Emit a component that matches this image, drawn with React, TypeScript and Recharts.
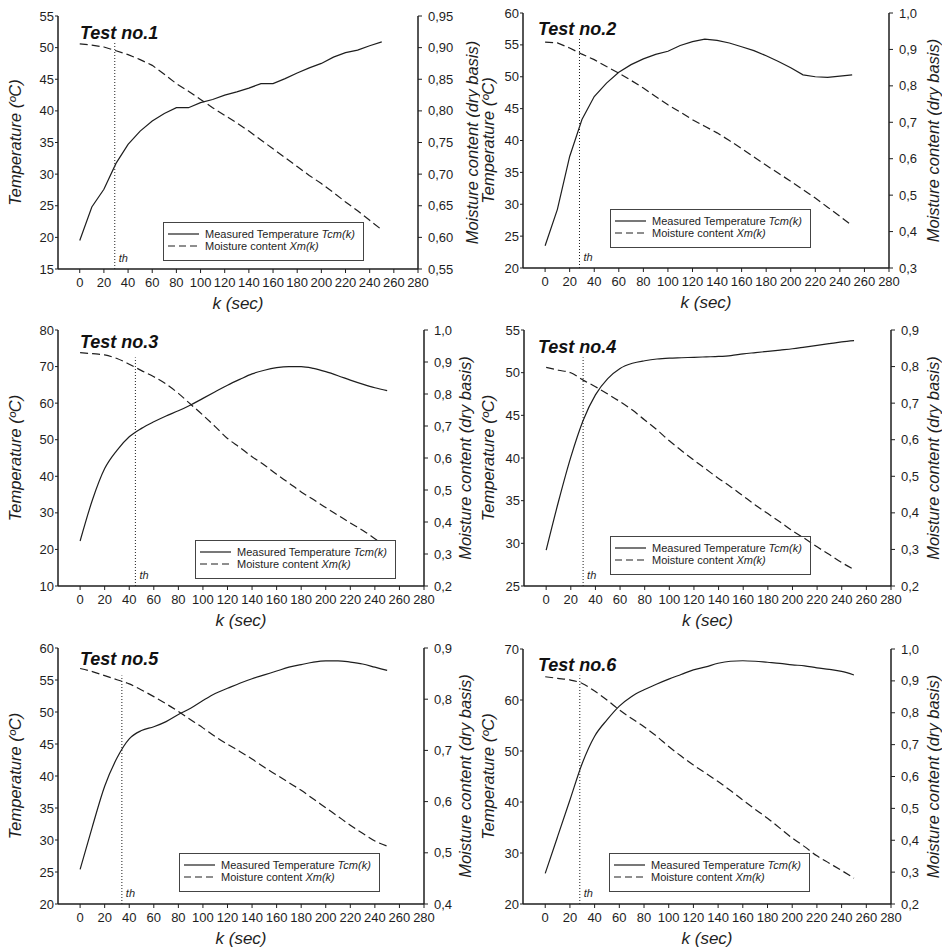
import React from 'react';
import { LineChart, Line, XAxis, YAxis, ReferenceLine, Legend } from 'recharts';

// time axis (sec), shared by all six tests
const K = [0, 10, 20, 30, 40, 50, 60, 70, 80, 90, 100, 110, 120, 130, 140, 150, 160, 170, 180, 190, 200, 210, 220, 230, 240, 250];
const K_TICKS = [0, 20, 40, 60, 80, 100, 120, 140, 160, 180, 200, 220, 240, 260, 280];

// measured temperature Tcm(k) and moisture content Xm(k)
const T1 = [19.5, 24.8, 27.6, 31.7, 34.7, 36.8, 38.4, 39.6, 40.5, 40.5, 41.3, 41.8, 42.5, 43.0, 43.6, 44.3, 44.3, 45.1, 46.0, 46.8, 47.5, 48.5, 49.2, 49.6, 50.3, 50.9];
const X1 = [0.906, 0.904, 0.901, 0.895, 0.889, 0.881, 0.872, 0.858, 0.843, 0.831, 0.818, 0.805, 0.793, 0.781, 0.768, 0.754, 0.74, 0.726, 0.712, 0.698, 0.685, 0.671, 0.656, 0.642, 0.627, 0.612];

const T2 = [23.5, 29.2, 37.5, 43.3, 46.9, 49.0, 50.7, 51.9, 52.8, 53.5, 54.0, 54.9, 55.5, 55.9, 55.7, 55.3, 54.7, 54.1, 53.3, 52.4, 51.4, 50.3, 50.0, 49.9, 50.1, 50.3];
const X2 = [0.92, 0.918, 0.904, 0.887, 0.872, 0.853, 0.835, 0.815, 0.794, 0.771, 0.748, 0.728, 0.707, 0.689, 0.671, 0.65, 0.628, 0.605, 0.582, 0.56, 0.538, 0.515, 0.492, 0.467, 0.442, 0.416];

const T3 = [22.3, 33.5, 42.1, 47.1, 50.8, 53.1, 54.9, 56.5, 57.9, 59.5, 61.3, 63.1, 64.9, 66.5, 68.0, 69.0, 69.7, 70.0, 70.0, 69.5, 68.6, 67.5, 66.3, 65.2, 64.2, 63.4];
const X3 = [0.929, 0.926, 0.922, 0.911, 0.893, 0.873, 0.854, 0.831, 0.802, 0.768, 0.734, 0.698, 0.661, 0.633, 0.604, 0.578, 0.549, 0.522, 0.494, 0.47, 0.445, 0.421, 0.397, 0.374, 0.348, 0.322];

const T4 = [29.2, 34.9, 40.1, 44.4, 47.4, 49.3, 50.5, 51.1, 51.4, 51.6, 51.7, 51.75, 51.8, 51.85, 51.9, 52.0, 52.2, 52.35, 52.5, 52.65, 52.8, 53.0, 53.2, 53.4, 53.6, 53.75];
const X4 = [0.798, 0.79, 0.783, 0.763, 0.745, 0.725, 0.704, 0.681, 0.654, 0.627, 0.597, 0.57, 0.544, 0.519, 0.494, 0.471, 0.446, 0.421, 0.398, 0.375, 0.351, 0.33, 0.307, 0.286, 0.264, 0.245];

const T5 = [25.4, 32.1, 38.4, 42.8, 45.8, 47.1, 47.7, 48.5, 49.6, 50.6, 51.8, 52.9, 53.7, 54.5, 55.2, 55.8, 56.4, 57.0, 57.4, 57.8, 58.0, 58.0, 57.8, 57.5, 57.0, 56.5];
const X5 = [0.86, 0.854, 0.846, 0.838, 0.83, 0.818, 0.805, 0.791, 0.776, 0.76, 0.744, 0.727, 0.712, 0.698, 0.683, 0.667, 0.652, 0.637, 0.622, 0.605, 0.588, 0.571, 0.554, 0.538, 0.523, 0.513];

const T6 = [26.0, 33.2, 40.4, 47.6, 52.9, 56.1, 58.8, 60.7, 62.0, 63.1, 64.1, 65.0, 65.9, 66.5, 67.2, 67.6, 67.7, 67.6, 67.4, 67.2, 66.9, 66.7, 66.3, 66.0, 65.6, 64.9];
const X6 = [0.913, 0.908, 0.903, 0.892, 0.868, 0.84, 0.809, 0.782, 0.756, 0.727, 0.694, 0.664, 0.636, 0.61, 0.584, 0.556, 0.526, 0.497, 0.469, 0.438, 0.407, 0.38, 0.351, 0.328, 0.305, 0.281];

// axis ticks per test
const TEMP_TICKS_1 = [15, 20, 25, 30, 35, 40, 45, 50, 55];
const MOIST_TICKS_1 = [0.55, 0.6, 0.65, 0.7, 0.75, 0.8, 0.85, 0.9, 0.95];
const TEMP_TICKS_2 = [20, 25, 30, 35, 40, 45, 50, 55, 60];
const MOIST_TICKS_2 = [0.3, 0.4, 0.5, 0.6, 0.7, 0.8, 0.9, 1.0];
const TEMP_TICKS_3 = [10, 20, 30, 40, 50, 60, 70, 80];
const MOIST_TICKS_3 = [0.2, 0.3, 0.4, 0.5, 0.6, 0.7, 0.8, 0.9, 1.0];
const TEMP_TICKS_4 = [25, 30, 35, 40, 45, 50, 55];
const MOIST_TICKS_4 = [0.2, 0.3, 0.4, 0.5, 0.6, 0.7, 0.8, 0.9];
const TEMP_TICKS_5 = [20, 25, 30, 35, 40, 45, 50, 55, 60];
const MOIST_TICKS_5 = [0.4, 0.5, 0.6, 0.7, 0.8, 0.9];
const TEMP_TICKS_6 = [20, 30, 40, 50, 60, 70];
const MOIST_TICKS_6 = [0.2, 0.3, 0.4, 0.5, 0.6, 0.7, 0.8, 0.9, 1.0];

// threshold time th and how high its dotted marker reaches (degC)
const TH = [29, 28, 45, 30, 34, 28];
const TH_TOP = [51, 56, 72.5, 51.8, 55.7, 64.8];
const TITLES = ['Test no.1', 'Test no.2', 'Test no.3', 'Test no.4', 'Test no.5', 'Test no.6'];

const INK = '#1e1e1e';
const LEFT_W = 58;
const RIGHT_W = 62;
const TOP_M = 10;
const BOTTOM_H = 45;
const K_DOMAIN = [-18, 280];

const PANELS = [
  { temp: T1, moist: X1, tTicks: TEMP_TICKS_1, mTicks: MOIST_TICKS_1, dec: 2, curve: 'linear', plot: { x: 58, y: 16, w: 360, h: 253 }, lTitle: 43, rTitle: 54, title: { x: 80, y: 39 }, legend: { x: 163, y: 222 }, opaque: false },
  { temp: T2, moist: X2, tTicks: TEMP_TICKS_2, mTicks: MOIST_TICKS_2, dec: 1, curve: 'linear', plot: { x: 523, y: 13, w: 366, h: 255 }, lTitle: 35, rTitle: 44, title: { x: 538, y: 35 }, legend: { x: 610, y: 209 }, opaque: false },
  { temp: T3, moist: X3, tTicks: TEMP_TICKS_3, mTicks: MOIST_TICKS_3, dec: 1, curve: 'monotone', plot: { x: 58, y: 330, w: 366, h: 256 }, lTitle: 43, rTitle: 41, title: { x: 80, y: 348 }, legend: { x: 195, y: 540 }, opaque: true },
  { temp: T4, moist: X4, tTicks: TEMP_TICKS_4, mTicks: MOIST_TICKS_4, dec: 1, curve: 'monotone', plot: { x: 524, y: 330, w: 367, h: 256 }, lTitle: 36, rTitle: 42, title: { x: 538, y: 353 }, legend: { x: 610, y: 536 }, opaque: false },
  { temp: T5, moist: X5, tTicks: TEMP_TICKS_5, mTicks: MOIST_TICKS_5, dec: 1, curve: 'monotone', plot: { x: 58, y: 648, w: 366, h: 256 }, lTitle: 43, rTitle: 41, title: { x: 80, y: 665 }, legend: { x: 179, y: 853 }, opaque: false },
  { temp: T6, moist: X6, tTicks: TEMP_TICKS_6, mTicks: MOIST_TICKS_6, dec: 1, curve: 'monotone', plot: { x: 523, y: 649, w: 368, h: 255 }, lTitle: 35, rTitle: 42, title: { x: 538, y: 671 }, legend: { x: 609, y: 853 }, opaque: false },
];

function ThLabel(props: any) {
  const vb = props.viewBox || {};
  return (
    <text x={vb.x + 4} y={vb.y + vb.height - 7} fontSize={11} fontStyle="italic" fill={INK}>
      th
    </text>
  );
}

function LegendBox({ payload, opaque }: any) {
  return (
    <div
      style={{
        width: 201,
        height: 39,
        boxSizing: 'border-box',
        border: '1.5px solid #444',
        background: opaque ? '#fff' : 'transparent',
        padding: '5px 0 0 4px',
        fontSize: 11,
        color: INK,
      }}
    >
      {(payload || []).map((e: any, i: number) => {
        const name = String(e.value);
        const cut = name.lastIndexOf(' ');
        return (
          <div key={i} style={{ display: 'flex', alignItems: 'center', height: 12, lineHeight: '12px', whiteSpace: 'nowrap' }}>
            <svg width={31} height={6} style={{ marginRight: 6, flexShrink: 0 }}>
              <line x1={0} y1={3} x2={31} y2={3} stroke={INK} strokeWidth={1.2} strokeDasharray={i === 1 ? '7 4' : undefined} />
            </svg>
            <span>
              {name.slice(0, cut + 1)}
              <i>{name.slice(cut + 1)}</i>
            </span>
          </div>
        );
      })}
    </div>
  );
}

function TestPanel({ p, idx }: { p: any; idx: number }) {
  const data = K.map((k, i) => ({ k, t: p.temp[i], m: p.moist[i] }));
  const left = p.plot.x - LEFT_W;
  const top = p.plot.y - TOP_M;
  const width = p.plot.w + LEFT_W + RIGHT_W;
  const height = p.plot.h + TOP_M + BOTTOM_H;
  const fmt = (v: number) => v.toFixed(p.dec).replace('.', ',');
  const axisLine = { stroke: INK, strokeWidth: 1.5 };
  const tickStyle = { fill: INK, fontSize: 13 };

  return (
    <div style={{ position: 'absolute', left, top, width, height }}>
      <LineChart width={width} height={height} data={data} margin={{ top: TOP_M, right: 0, bottom: 0, left: 0 }}>
        <XAxis
          dataKey="k"
          type="number"
          domain={K_DOMAIN}
          ticks={K_TICKS}
          interval={0}
          height={BOTTOM_H}
          tickSize={4}
          tickMargin={5}
          axisLine={axisLine}
          tickLine={{ stroke: INK }}
          tick={tickStyle}
          label={{ value: 'k (sec)', position: 'insideBottom', offset: 5, fill: INK, style: { fontSize: 17, fontStyle: 'italic', fill: INK } }}
        />
        <XAxis xAxisId="top" orientation="top" type="number" domain={K_DOMAIN} height={0} tick={false} tickLine={false} axisLine={axisLine} />
        <YAxis
          yAxisId="t"
          orientation="left"
          width={LEFT_W}
          domain={[p.tTicks[0], p.tTicks[p.tTicks.length - 1]]}
          ticks={p.tTicks}
          interval={0}
          tickSize={3}
          tickMargin={1}
          axisLine={axisLine}
          tickLine={{ stroke: INK }}
          tick={tickStyle}
          label={{
            value: 'Temperature (ºC)',
            angle: -90,
            position: 'insideLeft',
            offset: LEFT_W - p.lTitle,
            fill: INK,
            style: { textAnchor: 'middle', fontSize: 16.5, fontStyle: 'italic', fill: INK },
          }}
        />
        <YAxis
          yAxisId="m"
          orientation="right"
          width={RIGHT_W}
          domain={[p.mTicks[0], p.mTicks[p.mTicks.length - 1]]}
          ticks={p.mTicks}
          interval={0}
          tickSize={4}
          tickMargin={6}
          tickFormatter={fmt}
          axisLine={axisLine}
          tickLine={{ stroke: INK }}
          tick={tickStyle}
          label={{
            value: 'Moisture content (dry basis)',
            angle: -90,
            position: 'insideRight',
            offset: RIGHT_W - p.rTitle,
            fill: INK,
            style: { textAnchor: 'middle', fontSize: 16.5, fontStyle: 'italic', fill: INK },
          }}
        />
        <ReferenceLine
          yAxisId="t"
          segment={[
            { x: TH[idx], y: p.tTicks[0] },
            { x: TH[idx], y: TH_TOP[idx] },
          ]}
          stroke={INK}
          strokeWidth={1}
          strokeDasharray="1 2"
          label={<ThLabel />}
        />
        <Line
          yAxisId="t"
          type={p.curve}
          dataKey="t"
          name="Measured Temperature Tcm(k)"
          stroke={INK}
          strokeWidth={1.2}
          dot={false}
          activeDot={false}
          isAnimationActive={false}
        />
        <Line
          yAxisId="m"
          type={p.curve}
          dataKey="m"
          name="Moisture content Xm(k)"
          stroke={INK}
          strokeWidth={1.2}
          strokeDasharray="8 4"
          dot={false}
          activeDot={false}
          isAnimationActive={false}
        />
        <Legend
          layout="horizontal"
          verticalAlign="middle"
          align="center"
          content={(props: any) => <LegendBox {...props} opaque={p.opaque} />}
          wrapperStyle={{ left: p.legend.x - left, top: p.legend.y - top, width: 201, height: 39 }}
        />
      </LineChart>
      <div
        style={{
          position: 'absolute',
          left: p.title.x - left,
          top: p.title.y - top - 15,
          fontSize: 18,
          lineHeight: '18px',
          fontWeight: 'bold',
          fontStyle: 'italic',
          color: '#111',
          whiteSpace: 'nowrap',
        }}
      >
        {TITLES[idx]}
      </div>
    </div>
  );
}

export default function App() {
  return (
    <div
      style={{
        position: 'absolute',
        left: 0,
        top: 0,
        width: 942,
        height: 948,
        overflow: 'hidden',
        background: '#fff',
        fontFamily: '"Liberation Sans", Arial, Helvetica, sans-serif',
        color: INK,
      }}
    >
      {PANELS.map((p, i) => (
        <TestPanel key={i} p={p} idx={i} />
      ))}
    </div>
  );
}
